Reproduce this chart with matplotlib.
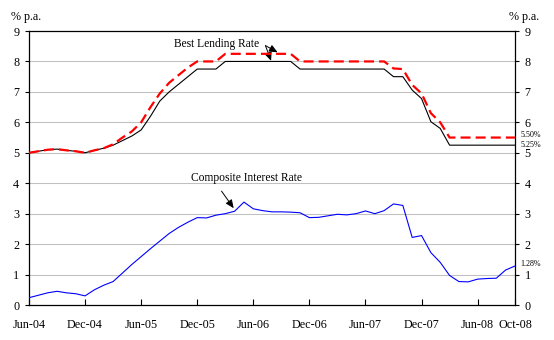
"""Best lending rate vs composite interest rate, Jun-04 to Oct-08."""

import matplotlib

matplotlib.use("Agg")
import matplotlib.pyplot as plt

# ---------------------------------------------------------------------------
# Data (monthly, Jun-04 .. Oct-08)
# ---------------------------------------------------------------------------

MONTHS = [
    "Jun-04", "Jul-04", "Aug-04", "Sep-04", "Oct-04", "Nov-04", "Dec-04",
    "Jan-05", "Feb-05", "Mar-05", "Apr-05", "May-05", "Jun-05", "Jul-05",
    "Aug-05", "Sep-05", "Oct-05", "Nov-05", "Dec-05", "Jan-06", "Feb-06",
    "Mar-06", "Apr-06", "May-06", "Jun-06", "Jul-06", "Aug-06", "Sep-06",
    "Oct-06", "Nov-06", "Dec-06", "Jan-07", "Feb-07", "Mar-07", "Apr-07",
    "May-07", "Jun-07", "Jul-07", "Aug-07", "Sep-07", "Oct-07", "Nov-07",
    "Dec-07", "Jan-08", "Feb-08", "Mar-08", "Apr-08", "May-08", "Jun-08",
    "Jul-08", "Aug-08", "Sep-08", "Oct-08",
]

# best lending rate, lower bound (black solid)
blr_low = [
    5.00, 5.05, 5.10, 5.12, 5.08, 5.05, 5.00, 5.08, 5.15, 5.25,
    5.40, 5.55, 5.75, 6.20, 6.70, 7.00, 7.25, 7.50, 7.75, 7.75,
    7.75, 8.00, 8.00, 8.00, 8.00, 8.00, 8.00, 8.00, 8.00, 7.75,
    7.75, 7.75, 7.75, 7.75, 7.75, 7.75, 7.75, 7.75, 7.75, 7.50,
    7.50, 7.06, 6.78, 6.02, 5.80, 5.25, 5.25, 5.25, 5.25, 5.25,
    5.25, 5.25, 5.25,
]

# best lending rate, upper bound (red dashed)
blr_high = [
    5.00, 5.05, 5.10, 5.12, 5.08, 5.05, 5.00, 5.08, 5.15, 5.28,
    5.50, 5.70, 6.00, 6.50, 6.95, 7.30, 7.55, 7.80, 8.00, 8.00,
    8.00, 8.25, 8.25, 8.25, 8.25, 8.25, 8.25, 8.25, 8.25, 8.00,
    8.00, 8.00, 8.00, 8.00, 8.00, 8.00, 8.00, 8.00, 8.00, 7.77,
    7.75, 7.23, 6.95, 6.30, 6.00, 5.50, 5.50, 5.50, 5.50, 5.50,
    5.50, 5.50, 5.50,
]

composite = [
    0.24, 0.32, 0.40, 0.45, 0.40, 0.37, 0.30, 0.50, 0.65, 0.77,
    1.05, 1.33, 1.59, 1.85, 2.10, 2.35, 2.55, 2.72, 2.87, 2.86,
    2.95, 3.00, 3.08, 3.38, 3.16, 3.10, 3.06, 3.06, 3.05, 3.03,
    2.87, 2.88, 2.93, 2.98, 2.96, 3.00, 3.09, 3.00, 3.10, 3.32,
    3.27, 2.22, 2.28, 1.72, 1.40, 0.97, 0.77, 0.76, 0.85, 0.87,
    0.88, 1.15, 1.28,
]

TICK_MONTHS = ["Jun-04", "Dec-04", "Jun-05", "Dec-05", "Jun-06", "Dec-06",
               "Jun-07", "Dec-07", "Jun-08", "Oct-08"]

FONT = "Liberation Serif"
GRID = "#c0c0c0"

plt.rcParams["font.family"] = [FONT, "DejaVu Serif"]

# ---------------------------------------------------------------------------
# Figure
# ---------------------------------------------------------------------------

fig = plt.figure(figsize=(5.54, 3.40), dpi=100)
ax = fig.add_axes([29 / 554, 35 / 340, 486 / 554, 274 / 340])

x = list(range(len(MONTHS)))

ax.plot(x, composite, color="#0000ff", lw=0.8, zorder=3)
ax.plot(x, blr_low, color="black", lw=0.8, zorder=3)
ax.plot(x, blr_high, color="#ff0000", lw=1.6, linestyle=(0, (4.5, 2.3)), zorder=4)

ax.set_xlim(0, len(MONTHS) - 1)
ax.set_ylim(0, 9)

for v in range(1, 9):
    ax.axhline(v, color=GRID, lw=0.75, zorder=1)

ax.set_xticks([MONTHS.index(m) for m in TICK_MONTHS])
ax.set_xticklabels(TICK_MONTHS)
ax.set_yticks(range(0, 10))
ax.tick_params(axis="x", direction="in", length=4, width=0.8, pad=10,
               labelsize=8.7)
ax.tick_params(axis="y", direction="out", length=3, width=0.8, pad=4,
               labelsize=8.7, left=True, right=True,
               labelleft=True, labelright=True)

for side in ("left", "right", "top", "bottom"):
    ax.spines[side].set_linewidth(0.9)
    ax.spines[side].set_color("black")

fig.text(11 / 554, 1 - 17 / 340, "% p.a.", fontsize=8.7, va="center", ha="left")
fig.text(509 / 554, 1 - 17 / 340, "% p.a.", fontsize=8.7, va="center", ha="left")

# annotations
arrow = dict(arrowstyle="-|>,head_length=0.5,head_width=0.22", color="black",
             lw=0.7, shrinkA=0, shrinkB=0)
ax.annotate("Best Lending Rate", xy=(26.6, 8.30), xytext=(20.1, 8.57),
            ha="center", va="center", fontsize=8.3)
ax.annotate("", xy=(26.6, 8.30), xytext=(25.3, 8.52), arrowprops=arrow)
ax.annotate("", xy=(25.9, 8.02), xytext=(25.3, 8.52), arrowprops=arrow)

ax.annotate("Composite Interest Rate", xy=(23.3, 4.16), ha="center",
            va="center", fontsize=8.3)
ax.annotate("", xy=(21.9, 3.18), xytext=(20.6, 3.74), arrowprops=arrow)

last = len(MONTHS) - 1
for val, ypos in ((blr_high[-1], 5.58), (blr_low[-1], 5.24), (composite[-1], 1.34)):
    ax.text(last + 0.55, ypos, f"{val:.2f}%", fontsize=5.8, ha="left",
            va="center", clip_on=False)

fig.savefig("out.png", dpi=100)
